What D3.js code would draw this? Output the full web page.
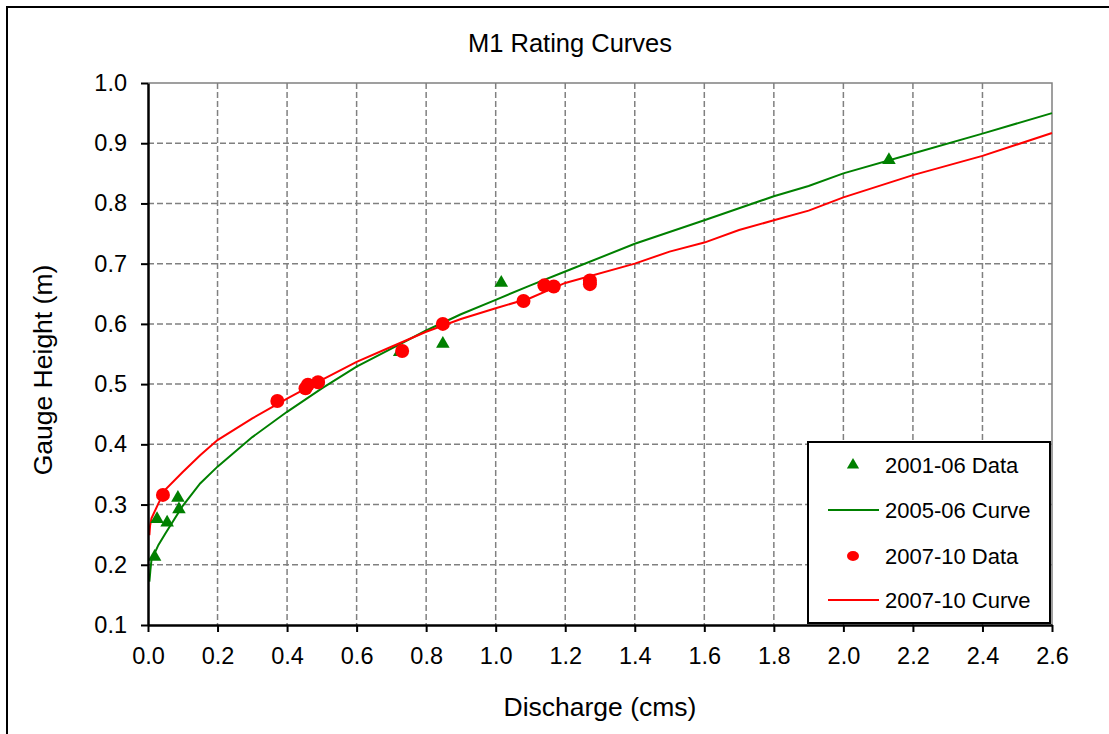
<!DOCTYPE html>
<html>
<head>
<meta charset="utf-8">
<script src="https://cdn.jsdelivr.net/npm/d3@7"></script>
<style>
  body { margin: 0; background: #fff; }
  text { font-family: "Liberation Sans", Arial, sans-serif; fill: #000; }
</style>
</head>
<body>
<div id="chart"></div>
<script>
// 2001-06 measured data (triangles)
const data0106Q = [0.019, 0.026, 0.055, 0.086, 0.089, 0.724, 0.848, 1.016, 2.131];
const data0106H = [0.213, 0.276, 0.270, 0.311, 0.292, 0.553, 0.567, 0.668, 0.872];

// 2005-06 rating curve (green)
const curve0506Q = [0.004, 0.007, 0.01, 0.03, 0.05, 0.1, 0.15, 0.2, 0.3, 0.4, 0.5, 0.6, 0.7, 0.8, 0.9, 1.0, 1.1, 1.2, 1.4, 1.6, 1.8, 1.9, 2.0, 2.2, 2.4, 2.6];
const curve0506H = [0.172, 0.192, 0.208, 0.233, 0.252, 0.298, 0.335, 0.363, 0.412, 0.454, 0.493, 0.529, 0.559, 0.589, 0.616, 0.640, 0.664, 0.687, 0.733, 0.772, 0.812, 0.829, 0.850, 0.883, 0.916, 0.950];

// 2007-10 measured data (circles)
const data0710Q = [0.043, 0.372, 0.453, 0.460, 0.489, 0.731, 0.848, 1.080, 1.140, 1.167, 1.271, 1.271];
const data0710H = [0.316, 0.472, 0.493, 0.499, 0.503, 0.555, 0.600, 0.638, 0.664, 0.662, 0.666, 0.672];

// 2007-10 rating curve (red)
const curve0710Q = [0.004, 0.006, 0.01, 0.03, 0.05, 0.1, 0.15, 0.2, 0.3, 0.4, 0.5, 0.6, 0.7, 0.8, 0.9, 1.0, 1.1, 1.2, 1.4, 1.5, 1.6, 1.7, 1.8, 1.9, 2.0, 2.2, 2.4, 2.6];
const curve0710H = [0.249, 0.265, 0.277, 0.302, 0.325, 0.354, 0.382, 0.407, 0.443, 0.476, 0.507, 0.537, 0.562, 0.587, 0.608, 0.626, 0.643, 0.668, 0.700, 0.720, 0.735, 0.756, 0.772, 0.788, 0.810, 0.847, 0.879, 0.917];

const xTickValues = d3.range(0, 27).filter(i => i % 2 === 0).map(i => i / 10);
const yTickValues = d3.range(1, 11).map(i => i / 10);

const legendLabels = ['2001-06 Data', '2005-06 Curve', '2007-10 Data', '2007-10 Curve'];

const width = 1109, height = 734;
const plotLeft = 148, plotRight = 1052, plotTop = 83, plotBottom = 625;

const svg = d3.select('#chart').append('svg')
  .attr('width', width)
  .attr('height', height);

// outer chart border
svg.append('rect')
  .attr('x', 7).attr('y', 7)
  .attr('width', width + 10).attr('height', height + 10)
  .attr('fill', 'none').attr('stroke', '#000').attr('stroke-width', 2);

const x = d3.scaleLinear().domain([0, 2.6]).range([plotLeft, plotRight]);
const y = d3.scaleLinear().domain([0.1, 1.0]).range([plotBottom, plotTop]);

// gridlines
svg.append('g').selectAll('line')
  .data(xTickValues.slice(1, -1))
  .enter().append('line')
  .attr('x1', d => x(d)).attr('x2', d => x(d))
  .attr('y1', plotTop).attr('y2', plotBottom)
  .attr('stroke', '#808080').attr('stroke-width', 1.5).attr('stroke-dasharray', '6,3');

svg.append('g').selectAll('line')
  .data(yTickValues.slice(1, -1))
  .enter().append('line')
  .attr('x1', plotLeft).attr('x2', plotRight)
  .attr('y1', d => y(d)).attr('y2', d => y(d))
  .attr('stroke', '#808080').attr('stroke-width', 1.5).attr('stroke-dasharray', '6,3');

// plot area frame (top and right in grey)
svg.append('path')
  .attr('d', `M${plotLeft},${plotTop}H${plotRight}V${plotBottom}`)
  .attr('fill', 'none').attr('stroke', '#808080').attr('stroke-width', 1.5);

// curves
const line = d3.line().x(d => x(d[0])).y(d => y(d[1]));

svg.append('path')
  .datum(d3.zip(curve0506Q, curve0506H))
  .attr('d', line)
  .attr('fill', 'none').attr('stroke', '#008000').attr('stroke-width', 2);

svg.append('path')
  .datum(d3.zip(curve0710Q, curve0710H))
  .attr('d', line)
  .attr('fill', 'none').attr('stroke', '#ff0000').attr('stroke-width', 2);

// data points
const tri = d3.symbol().type(d3.symbolTriangle).size(80);

svg.append('g').selectAll('path')
  .data(d3.zip(data0106Q, data0106H))
  .enter().append('path')
  .attr('d', tri)
  .attr('transform', d => `translate(${x(d[0])},${y(d[1])})`)
  .attr('fill', '#008000');

svg.append('g').selectAll('circle')
  .data(d3.zip(data0710Q, data0710H))
  .enter().append('circle')
  .attr('cx', d => x(d[0])).attr('cy', d => y(d[1]))
  .attr('r', 7)
  .attr('fill', '#ff0000');

// axes
const xAxis = d3.axisBottom(x).tickValues(xTickValues).tickFormat(d3.format('.1f'))
  .tickSize(7).tickSizeOuter(0).tickPadding(15);
const yAxis = d3.axisLeft(y).tickValues(yTickValues).tickFormat(d3.format('.1f'))
  .tickSize(7).tickSizeOuter(0).tickPadding(14);

const gx = svg.append('g').attr('transform', `translate(0,${plotBottom})`).call(xAxis);
const gy = svg.append('g').attr('transform', `translate(${plotLeft},0)`).call(yAxis);

[gx, gy].forEach(g => {
  g.select('.domain').attr('stroke', '#000').attr('stroke-width', 2.5);
  g.selectAll('.tick line').attr('stroke', '#000').attr('stroke-width', 2);
  g.selectAll('.tick text')
    .attr('font-family', '"Liberation Sans", Arial, sans-serif')
    .attr('font-size', 23.5).attr('fill', '#000');
});

// titles
svg.append('text')
  .attr('x', 570).attr('y', 52)
  .attr('text-anchor', 'middle').attr('font-size', 25.5)
  .text('M1 Rating Curves');

svg.append('text')
  .attr('x', 600).attr('y', 716)
  .attr('text-anchor', 'middle').attr('font-size', 26.5)
  .text('Discharge (cms)');

svg.append('text')
  .attr('transform', 'translate(52,370) rotate(-90)')
  .attr('text-anchor', 'middle').attr('font-size', 26.5)
  .text('Gauge Height (m)');

// legend
const legend = svg.append('g');
legend.append('rect')
  .attr('x', 808).attr('y', 442)
  .attr('width', 242).attr('height', 181)
  .attr('fill', '#fff').attr('stroke', '#000').attr('stroke-width', 2);

const rowY = [465, 510, 556, 600];
legendLabels.forEach((label, i) => {
  legend.append('text')
    .attr('x', 885).attr('y', rowY[i] + 8)
    .attr('font-size', 22)
    .text(label);
});

legend.append('path')
  .attr('d', d3.symbol().type(d3.symbolTriangle).size(65))
  .attr('transform', `translate(853,${rowY[0]})`)
  .attr('fill', '#008000');
legend.append('line')
  .attr('x1', 828).attr('x2', 879).attr('y1', rowY[1]).attr('y2', rowY[1])
  .attr('stroke', '#008000').attr('stroke-width', 2);
legend.append('ellipse')
  .attr('cx', 853).attr('cy', rowY[2]).attr('rx', 6).attr('ry', 5)
  .attr('fill', '#ff0000');
legend.append('line')
  .attr('x1', 828).attr('x2', 879).attr('y1', rowY[3]).attr('y2', rowY[3])
  .attr('stroke', '#ff0000').attr('stroke-width', 2);
</script>
</body>
</html>
